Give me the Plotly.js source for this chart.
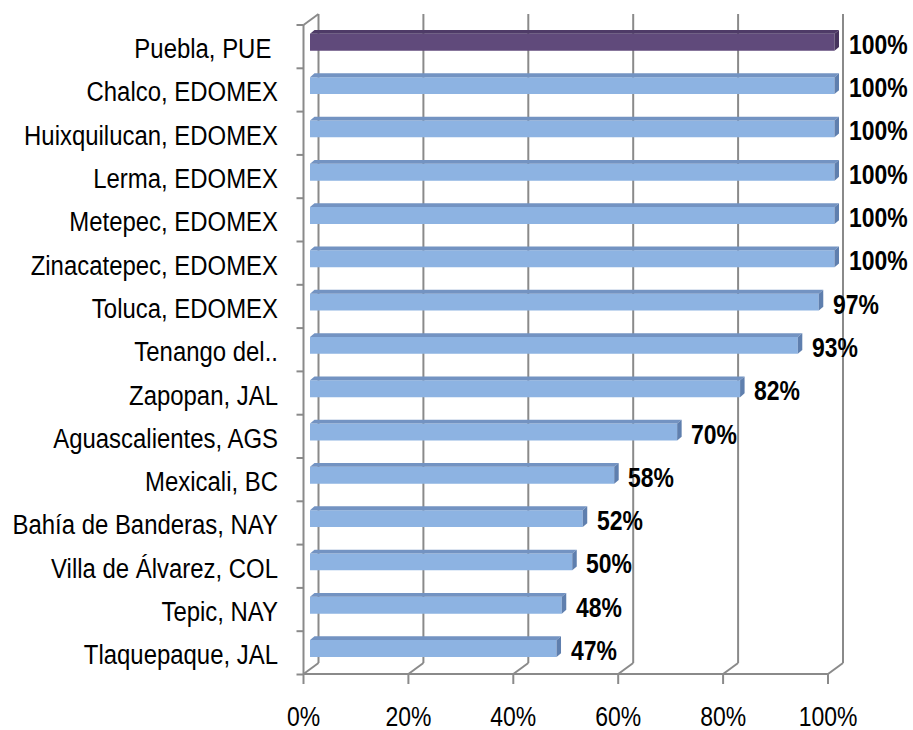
<!DOCTYPE html>
<html>
<head>
<meta charset="utf-8">
<script src="https://cdn.plot.ly/plotly-3.0.1.min.js"></script>
<style>html,body{margin:0;padding:0;background:#fff;}#chart{width:913px;height:730px;}</style>
</head>
<body>
<div id="chart"></div>
<script>
// ---- data ----
const categories = [
  'Puebla, PUE\u00a0',
  'Chalco, EDOMEX',
  'Huixquilucan, EDOMEX',
  'Lerma, EDOMEX',
  'Metepec, EDOMEX',
  'Zinacatepec, EDOMEX',
  'Toluca, EDOMEX',
  'Tenango del..',
  'Zapopan, JAL',
  'Aguascalientes, AGS',
  'Mexicali, BC',
  'Bahía de Banderas, NAY',
  'Villa de Álvarez, COL',
  'Tepic, NAY',
  'Tlaquepaque, JAL'
];
const values = [100, 100, 100, 100, 100, 100, 97, 93, 82, 70, 58, 52, 50, 48, 47];
const highlighted = ['Puebla, PUE\u00a0'];
const tickValues = [0, 20, 40, 60, 80, 100];
const tickLabels = ['0%', '20%', '40%', '60%', '80%', '100%'];

// ---- styling / geometry ----
const FONT = 'Liberation Sans, Arial, sans-serif';
const NARROW_Y = 0.855; // horizontal condensing of category labels (Arial Narrow look)
const NARROW = 0.82;    // horizontal condensing of other texts
const W = 913, H = 730;
const M = {l: 290, r: 53, t: 10, b: 40};
const K = 5.245;      // px per percent on the bar plane
const X0PX = 310;     // pixel of 0% on the bar plane
const BAND = 43.3;    // px per category
const Y0PX = 42.3;    // pixel of first category centre on the bar plane
const px2x = px => (px - X0PX) / K;
const px2y = py => (py - Y0PX) / BAND;
const plotL = M.l, plotR = W - M.r, plotT = M.t, plotB = H - M.b;

const FRONT_DX = -6.5, DEPTH_X = 15, DEPTH_Y = 11;
const FLOOR_Y = 674, WALL_TOP = 25;
const FX = v => X0PX + v * K + FRONT_DX;
const GRID = '#8a8a8a';

const idx = categories.map((c, i) => i);
const blue = {front: '#8DB3E2', top: '#7393C2', side: '#5F7FAE'};
const purple = {front: '#604A7B', top: '#4E3B67', side: '#46345D'};
const pal = categories.map(c => highlighted.includes(c) ? purple : blue);

const shapes = [];
function lineShape(xa, ya, xb, yb) {
  shapes.push({type: 'line', xref: 'x', yref: 'y', layer: 'below',
    x0: px2x(xa), y0: px2y(ya), x1: px2x(xb), y1: px2y(yb),
    line: {color: GRID, width: 2}});
}
tickValues.forEach(v => {
  const fx = FX(v);
  lineShape(fx + DEPTH_X, WALL_TOP - DEPTH_Y, fx + DEPTH_X, FLOOR_Y - DEPTH_Y);
  lineShape(fx + DEPTH_X, FLOOR_Y - DEPTH_Y, fx, FLOOR_Y);
  lineShape(fx, FLOOR_Y, fx, FLOOR_Y + 10);
});
lineShape(FX(0), FLOOR_Y, FX(100), FLOOR_Y);
lineShape(FX(0), WALL_TOP, FX(0), FLOOR_Y);
lineShape(FX(0), WALL_TOP, FX(0) + DEPTH_X, WALL_TOP - DEPTH_Y);
for (let j = 0; j <= categories.length; j++) {
  const y = WALL_TOP + j * BAND;
  lineShape(FX(0) - 7, y, FX(0), y);
}

// 3D faces of the bars
const BW = 0.39;
const ddx = 4.5 / K, ddy = 3.8 / BAND;
values.forEach((v, i) => {
  const t = i - BW / 2, b = i + BW / 2;
  shapes.push({type: 'path', xref: 'x', yref: 'y', layer: 'above', line: {width: 0},
    fillcolor: pal[i].top,
    path: `M0,${t} L${v},${t} L${v + ddx},${t - ddy} L${ddx},${t - ddy} Z`});
  shapes.push({type: 'path', xref: 'x', yref: 'y', layer: 'above', line: {width: 0},
    fillcolor: pal[i].side,
    path: `M${v},${t} L${v + ddx},${t - ddy} L${v + ddx},${b - ddy} L${v},${b} Z`});
});

const annotations = values.map((v, i) => ({
  x: v, y: i, xref: 'x', yref: 'y', text: v + '%', showarrow: false,
  xanchor: 'left', yanchor: 'middle', align: 'left', xshift: 12, yshift: -2,
  font: {family: FONT, size: 28, color: '#000', weight: 'bold'}
}));

const trace = {
  type: 'bar', orientation: 'h', x: values, y: idx, width: BW,
  marker: {color: pal.map(p => p.front), line: {width: 0}},
  hoverinfo: 'none'
};

const layout = {
  width: W, height: H, margin: M,
  paper_bgcolor: '#fff', plot_bgcolor: 'rgba(0,0,0,0)',
  showlegend: false,
  font: {family: FONT, size: 28, color: '#000'},
  xaxis: {range: [px2x(plotL), px2x(plotR)],
    tickvals: tickValues.map(v => v + FRONT_DX / K), ticktext: tickLabels,
    showgrid: false, zeroline: false, showline: false, ticks: '',
    ticklabelstandoff: 7,
    tickfont: {family: FONT, size: 28, color: '#000'}},
  yaxis: {range: [px2y(plotB), px2y(plotT)],
    tickvals: idx.map(i => i + 6 / BAND), ticktext: categories,
    showgrid: false, zeroline: false, showline: false, ticks: '',
    ticklabelstandoff: 11,
    tickfont: {family: FONT, size: 28, color: '#000'}},
  shapes: shapes,
  annotations: annotations
};

Plotly.newPlot('chart', [trace], layout, {displayModeBar: false, staticPlot: true}).then(gd => {
  gd.querySelectorAll('svg text').forEach(t => {
    const x = parseFloat(t.getAttribute('x')) || 0;
    const y = parseFloat(t.getAttribute('y')) || 0;
    const s = t.closest('.ytick') ? NARROW_Y : NARROW;
    const tr = t.getAttribute('transform') || '';
    t.setAttribute('transform',
      `${tr} translate(${x},${y}) scale(${s},1) translate(${-x},${-y})`);
  });
});
</script>
</body>
</html>
